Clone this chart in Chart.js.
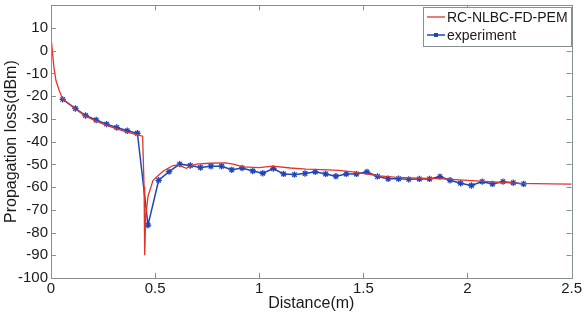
<!DOCTYPE html>
<html lang="en">
<head>
  <meta charset="UTF-8">
  <title>Propagation loss</title>
  <style>
    body {
      margin: 0;
      background-color: #ffffff;
    }
    .chart-container {
      position: relative;
      width: 584px;
      height: 318px;
    }
  </style>
</head>
<body>
  <div class="chart-container">
    <canvas id="lossChart" width="584" height="318"></canvas>
  </div>

  <script src="https://cdn.jsdelivr.net/npm/chart.js"></script>
  <script>
    // Datos
    const modelLabel = 'RC-NLBC-FD-PEM';
    const modelDistance = [0.000, 0.008, 0.014, 0.024, 0.040, 0.056, 0.117, 0.166, 0.217, 0.267, 0.316, 0.366, 0.415, 0.440,
      0.447, 0.450, 0.455, 0.466, 0.490, 0.514, 0.538, 0.560, 0.586, 0.610, 0.630, 0.650, 0.675, 0.700, 0.760, 0.840,
      0.880, 0.920, 1.000, 1.065, 1.150, 1.225, 1.300, 1.384, 1.448, 1.528, 1.576, 1.650, 1.720, 1.863, 2.000, 2.102,
      2.250, 2.400, 2.500];
    const modelLoss = [5.9, -1.5, -7.3, -13.2, -17.6, -21.2, -25.6, -28.8, -31.0, -32.8, -34.4, -35.8, -37.0, -37.6,
      -60.0, -90.0, -73.0, -64.0, -57.0, -55.0, -53.0, -51.8, -50.5, -50.3, -51.0, -51.7, -50.5, -49.9, -49.5, -49.3,
      -50.0, -51.1, -51.4, -50.8, -51.6, -52.1, -52.3, -52.6, -53.3, -54.4, -55.1, -55.6, -55.9, -56.3, -57.0, -57.6,
      -58.4, -58.6, -58.7];

    const expLabel = 'experiment';
    const expDistance = [0.056, 0.117, 0.166, 0.217, 0.267, 0.316, 0.366, 0.415, 0.466, 0.517, 0.567, 0.618, 0.669,
      0.718, 0.768, 0.819, 0.868, 0.918, 0.969, 1.017, 1.068, 1.117, 1.169, 1.220, 1.269, 1.319, 1.368, 1.418, 1.467,
      1.517, 1.568, 1.619, 1.669, 1.718, 1.769, 1.818, 1.868, 1.916, 1.967, 2.019, 2.071, 2.120, 2.170, 2.220, 2.270];
    const expLoss = [-21.4, -25.4, -28.5, -30.5, -32.3, -33.8, -35.2, -36.3, -76.7, -57.0, -53.2, -49.9, -50.5,
      -51.4, -50.8, -50.8, -52.4, -51.6, -52.9, -53.9, -51.8, -54.2, -54.5, -54.0, -53.3, -54.2, -55.2, -54.2, -54.2,
      -53.3, -55.3, -56.3, -56.3, -56.6, -56.4, -56.4, -55.4, -57.0, -58.3, -59.3, -57.6, -58.6, -57.6, -58.1, -58.6];

    const xTicks = [0, 0.5, 1, 1.5, 2, 2.5];
    const yTicks = [-100, -90, -80, -70, -60, -50, -40, -30, -20, -10, 0, 10];

    const toPoints = (xs, ys) => xs.map((x, i) => ({ x: x, y: ys[i] }));

    const axisColor = '#858f94';
    const textColor = '#1a1a1a';
    const fontFamily = '"Liberation Sans", Arial, sans-serif';

    // Marco tipo MATLAB: caja, marcas hacia dentro y leyenda con borde
    const matlabFrame = {
      id: 'matlabFrame',
      afterDraw(chart) {
        const ctx = chart.ctx;
        const area = chart.chartArea;
        const xs = chart.scales.x;
        const ys = chart.scales.y;
        const len = 5;
        ctx.save();
        ctx.strokeStyle = axisColor;
        ctx.lineWidth = 1;
        ctx.beginPath();
        xTicks.forEach(v => {
          const px = Math.round(xs.getPixelForValue(v)) + 0.5;
          ctx.moveTo(px, area.bottom); ctx.lineTo(px, area.bottom - len);
          ctx.moveTo(px, area.top); ctx.lineTo(px, area.top + len);
        });
        yTicks.forEach(v => {
          const py = Math.round(ys.getPixelForValue(v)) + 0.5;
          ctx.moveTo(area.left, py); ctx.lineTo(area.left + len, py);
          ctx.moveTo(area.right, py); ctx.lineTo(area.right - len, py);
        });
        ctx.stroke();
        ctx.strokeRect(Math.round(area.left) + 0.5, Math.round(area.top) + 0.5,
          Math.round(area.right - area.left), Math.round(area.bottom - area.top));

        // Leyenda
        const bx = 423, by = 7, bw = 148, bh = 39;
        ctx.fillStyle = '#ffffff';
        ctx.fillRect(bx, by, bw, bh);
        ctx.strokeRect(bx + 0.5, by + 0.5, bw, bh);
        ctx.font = '14px ' + fontFamily;
        ctx.textBaseline = 'middle';
        chart.data.datasets.forEach((ds, i) => {
          const ly = by + 10 + i * 18;
          ctx.strokeStyle = ds.borderColor;
          ctx.lineWidth = ds.borderWidth;
          ctx.beginPath();
          ctx.moveTo(bx + 4, ly);
          ctx.lineTo(bx + 22, ly);
          ctx.stroke();
          if (ds.pointRadius > 0) {
            ctx.fillStyle = ds.borderColor;
            ctx.fillRect(bx + 11, ly - 2, 4, 4);
          }
          ctx.fillStyle = textColor;
          ctx.fillText(ds.label, bx + 24, ly + 1);
        });
        ctx.restore();
      }
    };

    const ctx1 = document.getElementById('lossChart').getContext('2d');
    const lossChart = new Chart(ctx1, {
      type: 'line',
      data: {
        datasets: [{
          label: modelLabel,
          data: toPoints(modelDistance, modelLoss),
          borderColor: '#e3342a',
          borderWidth: 1.3,
          pointRadius: 0,
          fill: false,
          tension: 0
        }, {
          label: expLabel,
          data: toPoints(expDistance, expLoss),
          borderColor: '#1f45b8',
          backgroundColor: '#1f45b8',
          borderWidth: 1.5,
          pointStyle: 'star',
          pointRadius: 3.2,
          pointBorderWidth: 1.3,
          fill: false,
          tension: 0
        }]
      },
      options: {
        responsive: false,
        animation: false,
        layout: {
          padding: { top: 4, right: 11, left: 0, bottom: 0 }
        },
        plugins: {
          legend: { display: false },
          tooltip: { enabled: false }
        },
        scales: {
          x: {
            type: 'linear',
            min: 0,
            max: 2.5,
            grid: { display: false, drawTicks: false },
            border: { display: false },
            afterBuildTicks: scale => { scale.ticks = xTicks.map(v => ({ value: v })); },
            afterFit: scale => { scale.height = 40; },
            ticks: {
              color: textColor,
              padding: 2,
              maxRotation: 0,
              font: { family: fontFamily, size: 15 },
              callback: v => String(v)
            },
            title: {
              display: true,
              text: 'Distance(m)',
              color: textColor,
              font: { family: fontFamily, size: 16 },
              padding: { top: 0, bottom: 5 }
            }
          },
          y: {
            type: 'linear',
            min: -100,
            max: 20,
            grid: { display: false, drawTicks: false },
            border: { display: false },
            afterBuildTicks: scale => { scale.ticks = yTicks.map(v => ({ value: v })); },
            afterFit: scale => {
              scale.width = 51;
              scale.paddingTop = 0;
              scale.paddingBottom = 0;
            },
            ticks: {
              color: textColor,
              padding: 3,
              font: { family: fontFamily, size: 15 },
              callback: v => String(v)
            },
            title: {
              display: true,
              text: 'Propagation loss(dBm)',
              color: textColor,
              font: { family: fontFamily, size: 16 },
              padding: { top: 2, bottom: 0 }
            }
          }
        }
      },
      plugins: [matlabFrame]
    });
  </script>
</body>
</html>
